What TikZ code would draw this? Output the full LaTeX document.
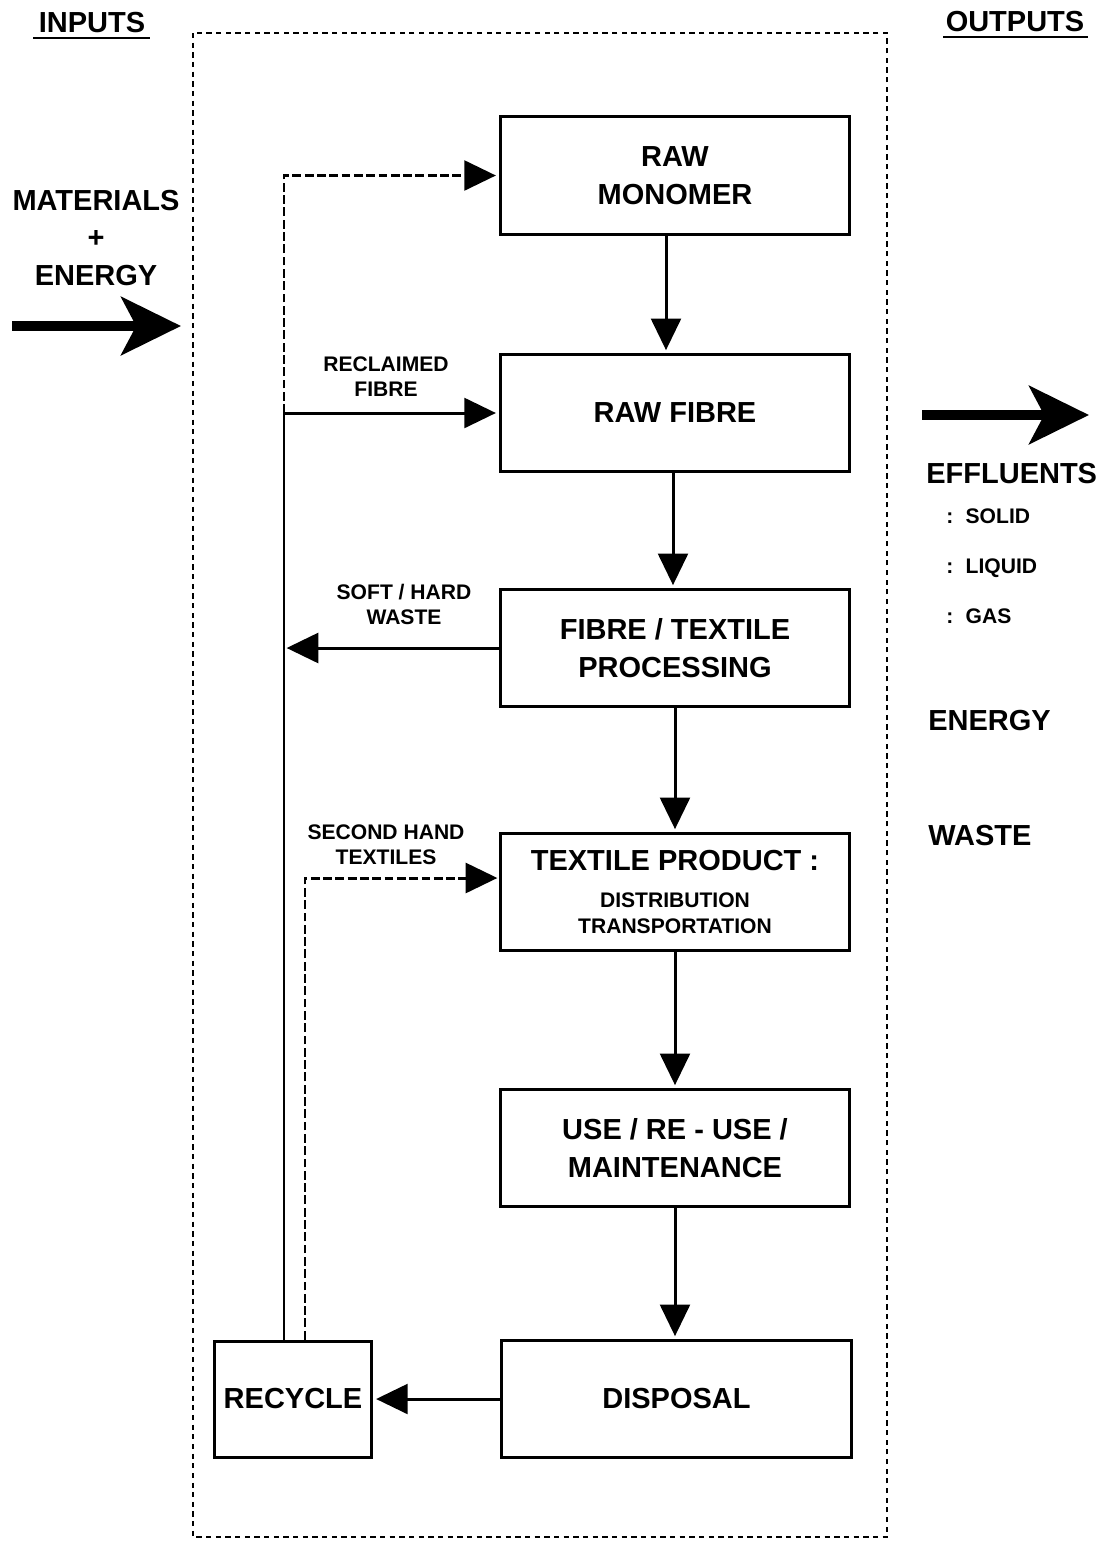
\documentclass[tikz,border=0pt]{standalone}
\usepackage{fontspec}
\setmainfont{Liberation Sans}
\usetikzlibrary{arrows.meta,calc}
\begin{document}
\begin{tikzpicture}[x=0.02cm,y=-0.02cm,
  box/.style={draw,line width=1.7pt,minimum width=7cm,minimum height=2.35cm,inner sep=0pt,align=center,font=\bfseries\fontsize{16.5}{21.5}\selectfont},
  lbl/.style={inner sep=0pt,align=center,font=\bfseries\fontsize{12}{14.2}\selectfont},
  big/.style={inner sep=0pt,align=center,font=\bfseries\fontsize{16.5}{21.5}\selectfont},
  arr/.style={line width=1.7pt,-{Triangle[length=18pt,width=17pt]},shorten >=1.5pt},
  darr/.style={arr,dash pattern=on 5pt off 2pt},
  bigarr/.style={line width=5.7pt,-{Stealth[length=34pt,width=33pt,inset=8.5pt]}}]
\useasboundingbox (0,0) rectangle (1104,1542);
% outer system boundary
\draw[line width=0.8pt,dash pattern=on 3pt off 2.5pt] (193,33) rectangle (887,1537);
% process boxes
\node[box] (mon) at (675,175.5) {RAW\\MONOMER};
\node[box] (fib) at (675,413) {RAW FIBRE};
\node[box] (proc) at (675,648) {FIBRE / TEXTILE\\PROCESSING};
\node[box,font=\bfseries\fontsize{12}{14.7}\selectfont] (tp) at (675,892) {{\fontsize{16.5}{21.5}\selectfont TEXTILE PRODUCT :}\\[6pt]DISTRIBUTION\\TRANSPORTATION};
\node[box] (use) at (675,1148) {USE / RE - USE /\\MAINTENANCE};
\node[box] (disp) at (676.5,1399) {DISPOSAL};
\node[box,minimum width=3.16cm,minimum height=2.32cm] (rec) at (293,1399) {RECYCLE};
% main flow
\draw[arr] ($(mon.south)+(-9,0)$) -- ($(fib.north)+(-9,0)$);
\draw[arr] ($(fib.south)+(-2,0)$) -- ($(proc.north)+(-2,0)$);
\draw[arr] (proc.south) -- (tp.north);
\draw[arr] (tp.south) -- (use.north);
\draw[arr] (use.south) -- (use.south |- disp.north);
% loops
\coordinate (L1) at (284,0);
\coordinate (L2) at (305,0);
\coordinate (tpin) at (500,878);
\draw[arr] (rec.north -| L1) -- (L1 |- fib.west) -- (fib.west);
\draw[darr] (L1 |- fib.west) -- (L1 |- mon.west) -- (mon.west);
\draw[arr] (proc.west) -- (L1 |- proc.west);
\draw[darr] (rec.north -| L2) -- (L2 |- tpin) -- (tpin);
\draw[arr] (disp.west) -- (rec.east |- disp.west);
% loop labels
\node[lbl] (lr) at (386,376.5) {RECLAIMED\\FIBRE};
\node[lbl] (ls) at (404,604.5) {SOFT / HARD\\WASTE};
\node[lbl] (lsh) at (386,844.5) {SECOND HAND\\TEXTILES};
% inputs
\node[big] (inp) at (92,23) {INPUTS};
\draw[line width=1.2pt] (33,38) -- (150,38);
\node[big] (mat) at (96,238) {MATERIALS\\+\\ENERGY};
\coordinate (inA) at (12,326);
\coordinate (inB) at (181,326);
\draw[bigarr] (inA) -- (inB);
% outputs
\node[big] (outp) at (1015,22) {OUTPUTS};
\draw[line width=1.2pt] (943,37) -- (1088,37);
\coordinate (outA) at (922,415);
\coordinate (outB) at (1089,415);
\draw[bigarr] (outA) -- (outB);
\node[big,anchor=west] (eff) at (926,474) {EFFLUENTS};
\node[lbl,anchor=west,align=left,font=\bfseries\fontsize{12}{28.4}\selectfont] (eff2) at (946,566) {:\hspace{7pt}SOLID\\:\hspace{7pt}LIQUID\\:\hspace{7pt}GAS};
\node[big,anchor=west] (en) at (928,721) {ENERGY};
\node[big,anchor=west] (wa) at (928,836) {WASTE};
\end{tikzpicture}
\end{document}
